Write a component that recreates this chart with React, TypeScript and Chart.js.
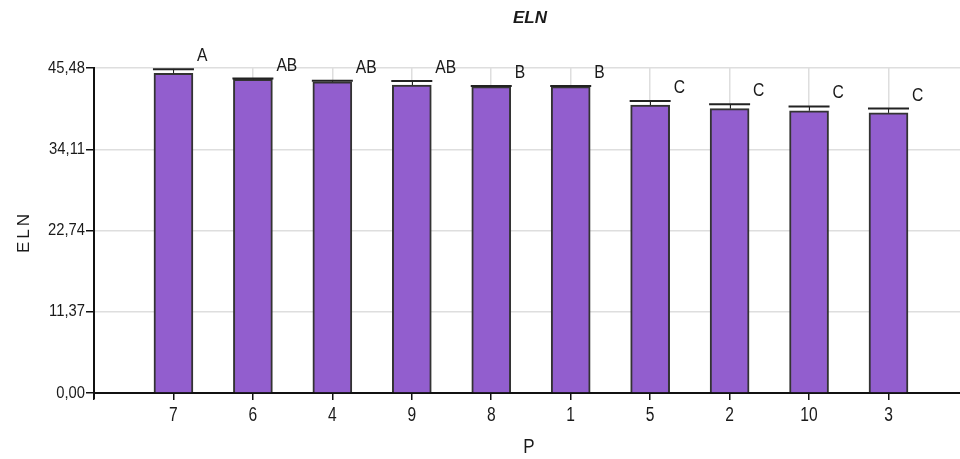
import React, { useEffect, useRef } from 'react';
import { Chart, registerables } from 'chart.js';

Chart.register(...registerables);

const categories = ['7', '6', '4', '9', '8', '1', '5', '2', '10', '3'];
const meanValues = [44.74, 43.88, 43.56, 43.1, 42.87, 42.87, 40.3, 39.79, 39.5, 39.2];
const errorValues = [0.55, 0.12, 0.12, 0.56, 0.1, 0.1, 0.56, 0.6, 0.6, 0.6];
const groupLetters = ['A', 'AB', 'AB', 'AB', 'B', 'B', 'C', 'C', 'C', 'C'];
const yTickValues = [0, 11.37, 22.74, 34.11, 45.48];
const titleText = 'ELN';
const yAxisTitle = 'ELN';
const xAxisTitle = 'P';

const SANS = '"Liberation Sans", Arial, sans-serif';

function drawScaledText(ctx: any, text: string, x: number, y: number, font: string, sx: number, align: string, baseline: string) {
  ctx.save();
  ctx.translate(x, y);
  ctx.scale(sx, 1);
  ctx.font = font;
  ctx.textAlign = align;
  ctx.textBaseline = baseline;
  ctx.fillText(text, 0, 0);
  ctx.restore();
}

const annotationsPlugin = {
  id: 'annotations',
  afterDatasetsDraw(chart: any) {
    const ctx = chart.ctx;
    const meta = chart.getDatasetMeta(0);
    const yScale = chart.scales.y;
    ctx.save();
    meta.data.forEach((bar: any, i: number) => {
      const props = bar.getProps(['x', 'y', 'width', 'base'], true);
      const half = props.width / 2;
      const capY = yScale.getPixelForValue(meanValues[i] + errorValues[i]);
      ctx.strokeStyle = '#222';
      ctx.lineWidth = 1;
      ctx.beginPath();
      ctx.moveTo(Math.round(props.x) + 0.5, props.y);
      ctx.lineTo(Math.round(props.x) + 0.5, capY);
      ctx.stroke();
      ctx.lineWidth = 2;
      ctx.beginPath();
      ctx.moveTo(props.x - half - 1, capY);
      ctx.lineTo(props.x + half + 1, capY);
      ctx.stroke();
      ctx.fillStyle = '#1a1a1a';
      drawScaledText(ctx, groupLetters[i], props.x + half + 4, capY - 4, '18px ' + SANS, 0.87, 'left', 'bottom');
    });
    ctx.restore();
  },
  afterDraw(chart: any) {
    const ctx = chart.ctx;
    const area = chart.chartArea;
    const xScale = chart.scales.x;
    const yScale = chart.scales.y;
    ctx.save();
    ctx.fillStyle = '#1a1a1a';
    yTickValues.forEach((v) => {
      const y = yScale.getPixelForValue(v);
      drawScaledText(ctx, v.toFixed(2).replace('.', ','), area.left - 9, y, '17px ' + SANS, 0.87, 'right', 'middle');
    });
    categories.forEach((c, i) => {
      const x = xScale.getPixelForValue(i);
      drawScaledText(ctx, c, x, area.bottom + 22, '20px ' + SANS, 0.78, 'center', 'middle');
    });
    ctx.font = 'italic bold 17px ' + SANS;
    ctx.textAlign = 'center';
    ctx.textBaseline = 'middle';
    ctx.fillText(titleText, 530, 18);
    drawScaledText(ctx, xAxisTitle, 529, 447, '20px ' + SANS, 0.85, 'center', 'middle');
    ctx.save();
    ctx.translate(24, 232);
    ctx.rotate(-Math.PI / 2);
    ctx.font = '17px ' + SANS;
    ctx.textAlign = 'center';
    ctx.textBaseline = 'middle';
    try { (ctx as any).letterSpacing = '3px'; } catch (e) {}
    ctx.fillText(yAxisTitle, 0, 0);
    ctx.restore();
    ctx.strokeStyle = '#111';
    ctx.lineWidth = 2;
    ctx.beginPath();
    ctx.moveTo(area.left, area.bottom);
    ctx.lineTo(area.left, area.bottom + 6);
    ctx.stroke();
    ctx.restore();
  },
};

export default function App() {
  const ref = useRef<HTMLCanvasElement | null>(null);
  useEffect(() => {
    document.body.style.margin = '0';
    const canvas = ref.current!;
    const chart = new Chart(canvas, {
      type: 'bar',
      data: {
        datasets: [
          {
            data: categories.map((c, i) => ({ x: i, y: meanValues[i] })),
            backgroundColor: 'rgb(146, 94, 206)',
            borderColor: '#333',
            borderWidth: 2,
            borderSkipped: 'bottom',
            barThickness: 39,
          },
        ],
      },
      options: {
        animation: false,
        responsive: false,
        maintainAspectRatio: false,
        layout: { padding: { top: 68, left: 0, right: 0, bottom: 0 } },
        plugins: { legend: { display: false }, tooltip: { enabled: false }, title: { display: false } },
        scales: {
          x: {
            type: 'linear',
            min: -1,
            max: 9.9,
            offset: false,
            afterBuildTicks: (scale: any) => {
              scale.ticks = [-1, ...categories.map((c, i) => i)].map((v) => ({ value: v }));
            },
            afterFit: (scale: any) => {
              scale.height = 66;
            },
            ticks: { display: false, autoSkip: false, maxRotation: 0 },
            grid: {
              offset: false,
              color: '#dedede',
              lineWidth: 1.5,
              tickColor: '#111',
              tickLength: 7,
              drawTicks: true,
            },
            border: { color: '#111', width: 2 },
          },
          y: {
            min: 0,
            max: 45.48,
            afterBuildTicks: (scale: any) => {
              scale.ticks = yTickValues.map((v) => ({ value: v }));
            },
            afterFit: (scale: any) => {
              scale.width = 94;
            },
            ticks: { display: false },
            grid: {
              color: '#dedede',
              lineWidth: 1.5,
              tickColor: '#111',
              tickLength: 8,
              drawTicks: true,
            },
            border: { color: '#111', width: 2 },
          },
        },
      },
      plugins: [annotationsPlugin],
    } as any);
    return () => chart.destroy();
  }, []);
  return <canvas ref={ref} width={960} height={459} style={{ display: 'block' }} />;
}
